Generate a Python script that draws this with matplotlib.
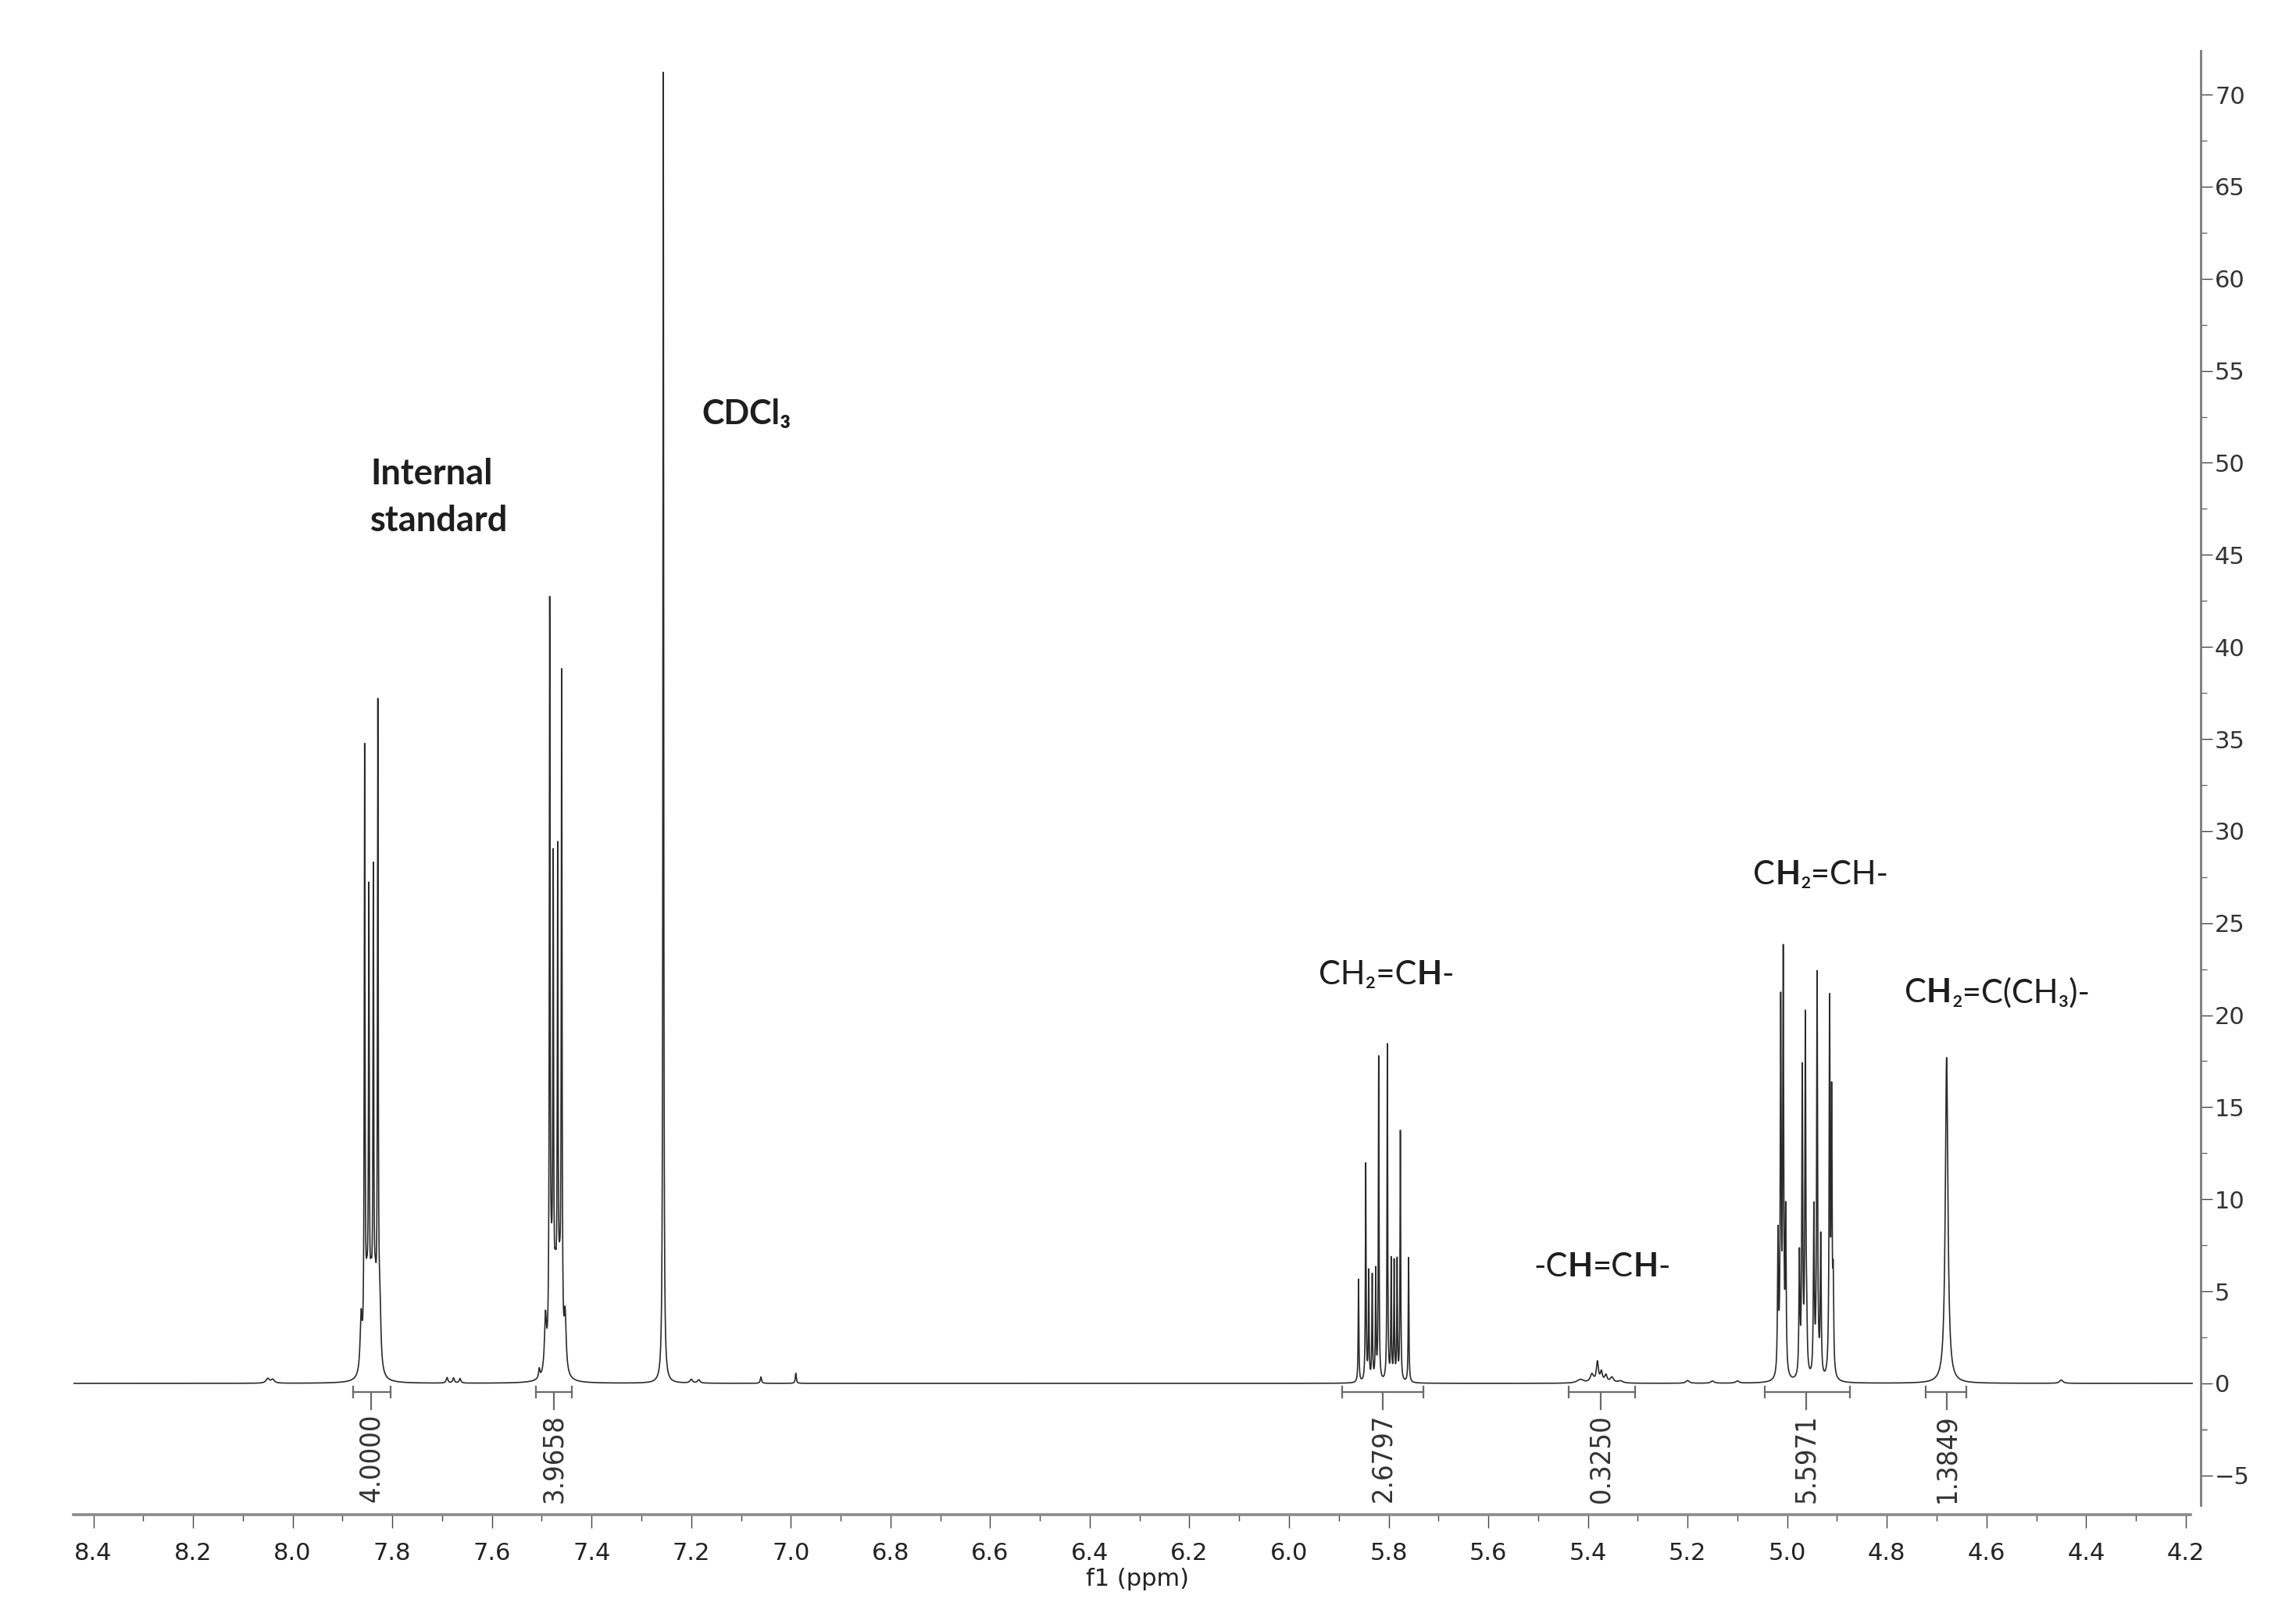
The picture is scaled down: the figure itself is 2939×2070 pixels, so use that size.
"""
1H NMR spectrum (CDCl3) with integrals and peak assignments
"""
import numpy as np
import matplotlib
matplotlib.use('Agg')
import matplotlib.pyplot as plt
from matplotlib import font_manager

# peak list: position (ppm), height, half width (ppm)
std1_ppm = [7.8555, 7.8470, 7.8380, 7.8290, 7.8625, 7.8510, 7.8425, 7.8340, 7.8250]
std1_h = [32.7, 23.8, 24.9, 34.8, 3.0, 3.6, 3.8, 3.6, 3.4]
std1_w = [0.0009, 0.0009, 0.0009, 0.0009, 0.0024, 0.0030, 0.0030, 0.0030, 0.0024]

std2_ppm = [7.4840, 7.4770, 7.4680, 7.4600, 7.4925, 7.4805, 7.4725, 7.4640, 7.4530, 7.5050]
std2_h = [40.1, 25.0, 25.7, 36.6, 3.0, 3.8, 4.0, 3.8, 3.0, 0.5]
std2_w = [0.0009, 0.0009, 0.0009, 0.0009, 0.0024, 0.0030, 0.0030, 0.0030, 0.0024, 0.0015]

cdcl3_ppm = [7.2560]
cdcl3_h = [71.6]
cdcl3_w = [0.0009]

small_ppm = [8.050, 8.040, 7.690, 7.677, 7.664, 7.200, 7.185, 7.060, 6.990, 5.200, 5.150, 5.100, 4.450]
small_h = [0.25, 0.2, 0.3, 0.28, 0.25, 0.2, 0.18, 0.35, 0.55, 0.15, 0.12, 0.12, 0.18]
small_w = [0.004, 0.004, 0.002, 0.002, 0.002, 0.003, 0.003, 0.0015, 0.0012, 0.004, 0.004, 0.004, 0.004]

vinyl_ch_ppm = [5.8605, 5.8460, 5.8400, 5.8330, 5.8260, 5.8200, 5.8026, 5.7950, 5.7890, 5.7830, 5.7765, 5.7600]
vinyl_ch_h = [5.6, 11.8, 5.9, 5.7, 5.9, 17.7, 18.3, 6.5, 6.4, 6.5, 13.6, 6.8]
vinyl_ch_w = [0.0008] * 12

inner_ch_ppm = [5.415, 5.392, 5.381, 5.373, 5.364, 5.352, 5.335]
inner_ch_h = [0.2, 0.45, 1.1, 0.55, 0.4, 0.3, 0.12]
inner_ch_w = [0.008, 0.004, 0.0025, 0.0025, 0.003, 0.004, 0.006]

vinyl_ch2_ppm = [5.0185, 5.0130, 5.0080, 5.0030,
                 4.9755, 4.9698, 4.9636, 4.9610,
                 4.9465, 4.9400, 4.9327,
                 4.9149, 4.9108, 4.9077]
vinyl_ch2_h = [7.5, 19.8, 22.4, 8.5,
               6.5, 16.5, 19.2, 2.5,
               9.0, 21.9, 7.5,
               20.0, 14.5, 4.5]
vinyl_ch2_w = [0.0011] * 14

methylidene_ppm = [4.6800]
methylidene_h = [17.7]
methylidene_w = [0.0031]

# integrals
int_labels = ['4.0000', '3.9658', '2.6797', '0.3250', '5.5971', '1.3849']
int_start = [7.879, 7.511, 5.894, 5.438, 5.0455, 4.7224]
int_end = [7.804, 7.439, 5.730, 5.305, 4.874, 4.641]
int_center = [7.842, 7.476, 5.812, 5.374, 4.9615, 4.680]

# x ticks / y ticks
x_major = [8.4, 8.2, 8.0, 7.8, 7.6, 7.4, 7.2, 7.0, 6.8, 6.6, 6.4, 6.2, 6.0,
           5.8, 5.6, 5.4, 5.2, 5.0, 4.8, 4.6, 4.4, 4.2]
y_major = [-5, 0, 5, 10, 15, 20, 25, 30, 35, 40, 45, 50, 55, 60, 65, 70]


def spectrum(ppm, centers, heights, widths):
    y = np.zeros_like(ppm)
    for c, h, w in zip(centers, heights, widths):
        y += h / (1.0 + ((ppm - c) / w) ** 2)
    return y


def rich_label(ax, x, y, parts, size, family, color):
    t = ax.text(x, y, parts[0][0], fontsize=size, fontweight=parts[0][1],
                family=family, color=color, ha='left', va='center')
    for s, w in parts[1:]:
        t = ax.annotate(s, xy=(1, 0), xycoords=t, ha='left', va='bottom',
                        fontsize=size, fontweight=w, family=family, color=color)
    return t


fonts = font_manager.fontManager.ttflist
names = {f.name for f in fonts}
if 'Liberation Sans Narrow' in names:
    INT_FONT, INT_SIZE, INT_STRETCH = 'Liberation Sans Narrow', 32, 'normal'
elif any(f.name == 'DejaVu Sans' and f.stretch == 'condensed' for f in fonts):
    INT_FONT, INT_SIZE, INT_STRETCH = 'DejaVu Sans', 26, 'condensed'
else:
    INT_FONT, INT_SIZE, INT_STRETCH = 'DejaVu Sans', 24, 'normal'
LABEL_FONT = ['Lato', 'DejaVu Sans']

fig = plt.figure(figsize=(29.39, 20.70), dpi=100)
ax = fig.add_axes([94 / 2939, 1 - 1939 / 2070, (2817 - 94) / 2939, (1939 - 64.5) / 2070])

ppm = np.linspace(8.44, 4.187, 30000)
groups = [(std1_ppm, std1_h, std1_w), (std2_ppm, std2_h, std2_w),
          (cdcl3_ppm, cdcl3_h, cdcl3_w), (small_ppm, small_h, small_w),
          (vinyl_ch_ppm, vinyl_ch_h, vinyl_ch_w), (inner_ch_ppm, inner_ch_h, inner_ch_w),
          (vinyl_ch2_ppm, vinyl_ch2_h, vinyl_ch2_w),
          (methylidene_ppm, methylidene_h, methylidene_w)]
y = np.zeros_like(ppm)
for c, h, w in groups:
    y += spectrum(ppm, c, h, w)
ax.plot(ppm, y, color='#2a2a2a', lw=1.2)

# integral brackets
bar_y = -0.46
for lab, s, e, c in zip(int_labels, int_start, int_end, int_center):
    ax.plot([s, e], [bar_y, bar_y], color='#6a6a6a', lw=1.6)
    ax.plot([s, s], [bar_y + 0.3, bar_y - 0.3], color='#6a6a6a', lw=1.6)
    ax.plot([e, e], [bar_y + 0.3, bar_y - 0.3], color='#6a6a6a', lw=1.6)
    ax.plot([c, c], [bar_y, -1.4], color='#6a6a6a', lw=1.6)
    ax.text(c, -1.65, lab, rotation=90, ha='center', va='top', fontsize=INT_SIZE,
            family=INT_FONT, fontstretch=INT_STRETCH, color='#333333')

# assignments
txt = '#1e1e1e'
ax.text(7.844, 49.4, 'Internal', fontsize=32.5, fontweight='bold', family=LABEL_FONT,
        color=txt, ha='left', va='center')
ax.text(7.844, 46.85, 'standard', fontsize=32.5, fontweight='bold', family=LABEL_FONT,
        color=txt, ha='left', va='center')
ax.text(7.179, 52.65, 'CDCl\u2083', fontsize=31, fontweight='bold', family=LABEL_FONT,
        color=txt, ha='left', va='center')
rich_label(ax, 5.940, 22.2, [('CH\u2082=C', 'normal'), ('H', 'bold'), ('-', 'normal')],
           30, LABEL_FONT, txt)
rich_label(ax, 5.509, 6.3, [('-C', 'normal'), ('H', 'bold'), ('=C', 'normal'),
                            ('H', 'bold'), ('-', 'normal')], 30, LABEL_FONT, txt)
rich_label(ax, 5.068, 27.6, [('C', 'normal'), ('H', 'bold'), ('\u2082=CH-', 'normal')],
           30, LABEL_FONT, txt)
rich_label(ax, 4.764, 21.2, [('C', 'normal'), ('H', 'bold'), ('\u2082=C(CH\u2083)-', 'normal')],
           30, LABEL_FONT, txt)

# axes
ax.set_xlim(8.44, 4.17)
ax.set_ylim(-7.13, 72.4)
for side in ['top', 'left']:
    ax.spines[side].set_visible(False)
ax.spines['bottom'].set_bounds(8.44, 4.19)
ax.spines['bottom'].set_color('#8a8a8a')
ax.spines['bottom'].set_linewidth(2.6)
ax.spines['right'].set_bounds(-6.6, 72.4)
ax.spines['right'].set_color('#7a7a7a')
ax.spines['right'].set_linewidth(2.0)

ax.set_xticks(x_major)
ax.set_xticklabels(['%.1f' % v for v in x_major])
ax.set_xticks([v - 0.1 for v in x_major[:-1]], minor=True)
ax.set_yticks(y_major)
ax.set_yticks([v + 2.5 for v in y_major[:-1]] + [-2.5], minor=True)
ax.yaxis.tick_right()
ax.tick_params(axis='x', which='major', length=12, width=1.0, color='#444444',
               pad=13, labelsize=22, labelcolor='#222222')
ax.tick_params(axis='x', which='minor', length=6, width=1.0, color='#444444')
ax.tick_params(axis='y', which='major', length=11, width=1.0, color='#444444',
               pad=2, labelsize=22, labelcolor='#333333')
ax.tick_params(axis='y', which='minor', length=6, width=1.0, color='#666666')
ax.set_xlabel('f1 (ppm)', fontsize=22, color='#222222', labelpad=3)

fig.savefig('out.png', dpi=100)
